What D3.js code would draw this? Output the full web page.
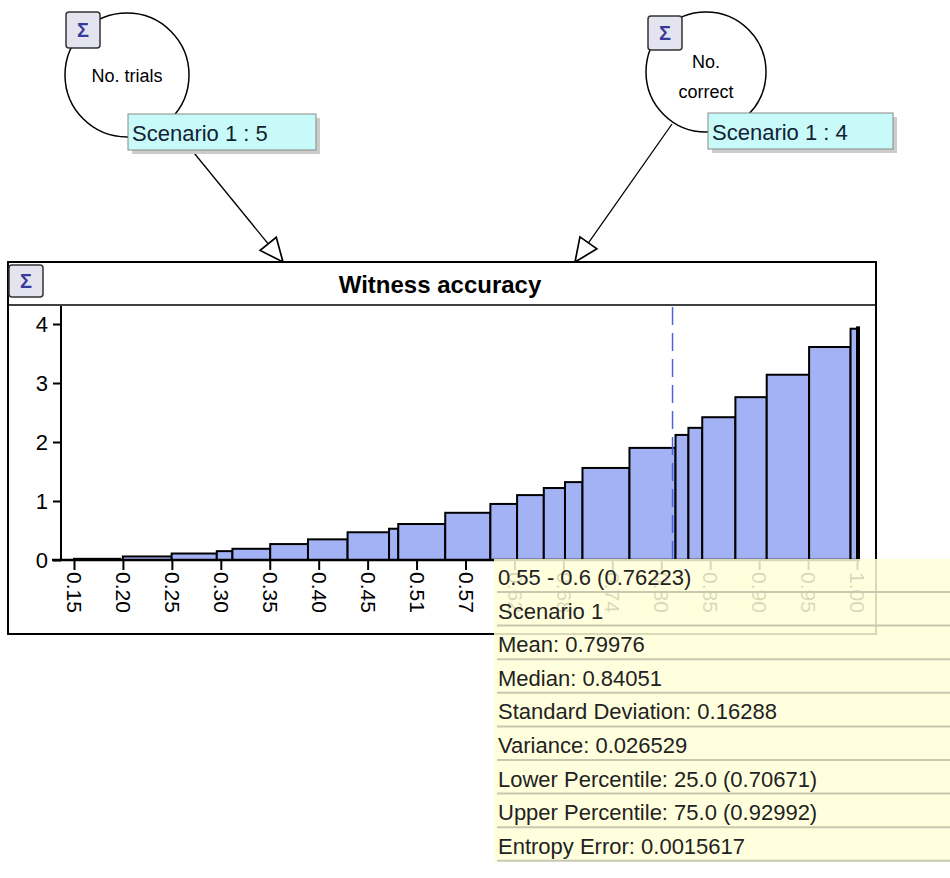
<!DOCTYPE html>
<html>
<head>
<meta charset="utf-8">
<script src="https://cdn.jsdelivr.net/npm/d3@7"></script>
<style>
body { margin: 0; background: #fff; }
text { font-family: "Liberation Sans", Arial, sans-serif; }
</style>
</head>
<body>
<div id="chart"></div>
<script>
// histogram bins (lower edge, upper edge, density)
var binLo = [0.15, 0.203, 0.256, 0.305, 0.322, 0.363, 0.404, 0.447, 0.492, 0.502, 0.553, 0.602, 0.631, 0.660, 0.683, 0.702, 0.753, 0.803, 0.817, 0.832, 0.868, 0.902, 0.948, 0.993];
var binHi = [0.200, 0.256, 0.305, 0.322, 0.363, 0.404, 0.447, 0.492, 0.502, 0.553, 0.602, 0.631, 0.660, 0.683, 0.702, 0.753, 0.803, 0.817, 0.832, 0.868, 0.902, 0.948, 0.993, 1.0];
var density = [0.02, 0.06, 0.11, 0.15, 0.19, 0.27, 0.35, 0.47, 0.53, 0.61, 0.80, 0.95, 1.10, 1.22, 1.32, 1.56, 1.90, 2.12, 2.24, 2.42, 2.76, 3.14, 3.61, 3.92];
var tickLabels = ["0.15", "0.20", "0.25", "0.30", "0.35", "0.40", "0.45", "0.51", "0.57", "0.62", "0.68", "0.74", "0.80", "0.85", "0.90", "0.95", "1.00"];
var yTicks = [0, 1, 2, 3, 4];
var meanValue = 0.79976;
var tipLines = ["0.55 - 0.6 (0.76223)", "Scenario 1", "Mean: 0.79976", "Median: 0.84051",
  "Standard Deviation: 0.16288", "Variance: 0.026529", "Lower Percentile: 25.0 (0.70671)",
  "Upper Percentile: 75.0 (0.92992)", "Entropy Error: 0.0015617"];

var width = 950, height = 878;
var svg = d3.select("#chart").append("svg").attr("width", width).attr("height", height);

var defs = svg.append("defs");
defs.append("marker").attr("id", "arrow").attr("viewBox", "0 0 20 20")
  .attr("refX", 19).attr("refY", 10).attr("markerWidth", 26).attr("markerHeight", 26)
  .attr("markerUnits", "userSpaceOnUse").attr("orient", "auto")
  .append("path").attr("d", "M1,2 L19,10 L1,18 Z").attr("fill", "#fff").attr("stroke", "#000").attr("stroke-width", 1.3);

function sigma(x, y, w, h) {
  var g = svg.append("g");
  g.append("rect").attr("x", x).attr("y", y).attr("width", w).attr("height", h)
    .attr("rx", 3).attr("fill", "#e4e4f0").attr("stroke", "#333").attr("stroke-width", 1.5);
  g.append("text").attr("x", x + w / 2).attr("y", y + h / 2 + 7).attr("text-anchor", "middle")
    .attr("font-size", 20).attr("font-weight", "bold").attr("fill", "#3a3a9a").text("Σ");
}

// arrows
svg.append("line").attr("x1", 190).attr("y1", 148).attr("x2", 283).attr("y2", 262)
  .attr("stroke", "#000").attr("stroke-width", 1.3).attr("marker-end", "url(#arrow)");
svg.append("line").attr("x1", 672).attr("y1", 124).attr("x2", 575).attr("y2", 262)
  .attr("stroke", "#000").attr("stroke-width", 1.3).attr("marker-end", "url(#arrow)");

// nodes
svg.append("circle").attr("cx", 127).attr("cy", 75).attr("r", 62).attr("fill", "#fff").attr("stroke", "#000").attr("stroke-width", 1.5);
svg.append("text").attr("x", 127).attr("y", 82).attr("text-anchor", "middle").attr("font-size", 18).text("No. trials");
sigma(66, 12, 34, 36);
svg.append("circle").attr("cx", 706).attr("cy", 72).attr("r", 60).attr("fill", "#fff").attr("stroke", "#000").attr("stroke-width", 1.5);
svg.append("text").attr("x", 706).attr("y", 68).attr("text-anchor", "middle").attr("font-size", 18).text("No.");
svg.append("text").attr("x", 706).attr("y", 98).attr("text-anchor", "middle").attr("font-size", 18).text("correct");
sigma(648, 16, 34, 34);

function label(x, y, w, t) {
  svg.append("rect").attr("x", x + 4).attr("y", y + 4).attr("width", w).attr("height", 36).attr("fill", "#ccc");
  svg.append("rect").attr("x", x).attr("y", y).attr("width", w).attr("height", 36)
    .attr("fill", "#c8fafa").attr("stroke", "#888");
  svg.append("text").attr("x", x + 4).attr("y", y + 27).attr("font-size", 22).attr("fill", "#123").text(t);
}
label(128, 114, 188, "Scenario 1 : 5");
label(708, 113, 185, "Scenario 1 : 4");

// chart frame
svg.append("rect").attr("x", 8).attr("y", 262).attr("width", 868).attr("height", 372)
  .attr("fill", "#fff").attr("stroke", "#000").attr("stroke-width", 2);
svg.append("line").attr("x1", 8).attr("x2", 876).attr("y1", 305).attr("y2", 305).attr("stroke", "#000").attr("stroke-width", 1.5);
svg.append("text").attr("x", 440).attr("y", 293).attr("text-anchor", "middle")
  .attr("font-size", 24).attr("font-weight", "bold").text("Witness accuracy");
sigma(9, 265, 34, 32);

var x = d3.scaleLinear().domain([0.15, 1.0]).range([74, 857]);
var y = d3.scaleLinear().domain([0, 4]).range([560, 324]);

svg.selectAll("rect.bar").data(density).enter().append("rect").attr("class", "bar")
  .attr("x", (d, i) => x(binLo[i])).attr("width", (d, i) => x(binHi[i]) - x(binLo[i]))
  .attr("y", d => y(d)).attr("height", d => y(0) - y(d))
  .attr("fill", "#a3b1f5").attr("stroke", "#000").attr("stroke-width", 2);
svg.append("line").attr("x1", x(1.0) + 1).attr("x2", x(1.0) + 1).attr("y1", y(3.96)).attr("y2", y(0))
  .attr("stroke", "#000").attr("stroke-width", 4);

svg.append("line").attr("x1", x(meanValue)).attr("x2", x(meanValue)).attr("y1", 307).attr("y2", 560)
  .attr("stroke", "#4a64e0").attr("stroke-width", 1.5).attr("stroke-dasharray", "18,8");

var yAxis = svg.append("g").attr("transform", "translate(61,0)")
  .call(d3.axisLeft(y).tickValues(yTicks).tickFormat(d3.format("d")).tickSize(8).tickSizeOuter(0));
yAxis.select(".domain").attr("d", "M0,306V560").attr("stroke-width", 2);
yAxis.selectAll("line").attr("stroke-width", 2);
yAxis.selectAll("text").attr("font-size", 22).attr("font-family", "Liberation Sans, Arial").attr("fill", "#000").attr("dx", -2).attr("dy", "0.35em");
svg.append("line").attr("x1", 52).attr("x2", 860).attr("y1", 560).attr("y2", 560).attr("stroke", "#000").attr("stroke-width", 2.5);

var tickVals = tickLabels.map((d, i) => 0.15 + i * 0.85 / (tickLabels.length - 1));
var xAxis = svg.append("g").attr("transform", "translate(0,560)")
  .call(d3.axisBottom(x).tickValues(tickVals).tickFormat((d, i) => tickLabels[i]).tickSize(10).tickSizeOuter(0));
xAxis.select(".domain").remove();
xAxis.selectAll("line").attr("stroke-width", 2);
xAxis.selectAll("text").attr("font-size", 21).attr("font-family", "Liberation Sans, Arial").attr("fill", "#000")
  .attr("transform", "rotate(90)").attr("text-anchor", "start").attr("x", 12).attr("y", 0).attr("dy", "0.35em");

// tooltip
var tip = svg.append("g");
tip.append("rect").attr("x", 494).attr("y", 559).attr("width", 456).attr("height", 303)
  .attr("fill", "#ffffd8").attr("fill-opacity", 0.85);
tip.selectAll("text").data(tipLines).enter().append("text")
  .attr("x", 498).attr("y", (d, i) => 585 + i * 33.6).attr("font-size", 22).attr("fill", "#222").text(d => d);
tip.selectAll("line").data(tipLines).enter().append("line")
  .attr("x1", 497).attr("x2", 950).attr("y1", (d, i) => 592 + i * 33.6).attr("y2", (d, i) => 592 + i * 33.6)
  .attr("stroke", "#c8c8b0").attr("stroke-width", 2);
</script>
</body>
</html>
